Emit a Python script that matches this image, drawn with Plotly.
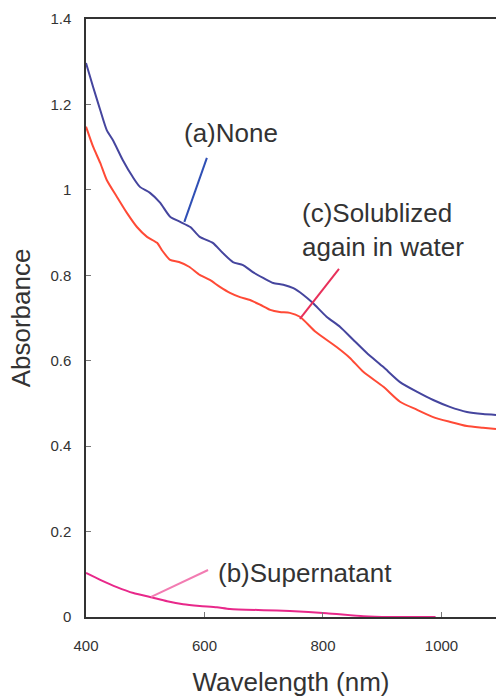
import plotly.graph_objects as go

# ---- data ----
wl_a = [400, 412, 424, 435, 446, 462, 479, 491, 508, 525, 542, 559, 576, 592, 614,
        631, 648, 665, 681, 699, 716, 733, 750, 767, 783, 806, 829, 851, 874, 902,
        930, 959, 986, 1014, 1043, 1070, 1092]
abs_a = [1.297, 1.241, 1.187, 1.140, 1.115, 1.070, 1.030, 1.007, 0.993, 0.970, 0.937,
         0.925, 0.913, 0.890, 0.876, 0.852, 0.831, 0.824, 0.808, 0.794, 0.782, 0.778,
         0.770, 0.754, 0.735, 0.703, 0.679, 0.649, 0.618, 0.585, 0.550, 0.527, 0.508,
         0.492, 0.480, 0.475, 0.473]

wl_c = [400, 412, 424, 435, 452, 469, 486, 503, 520, 528, 542, 557, 574, 592, 609,
        626, 643, 660, 677, 694, 711, 727, 744, 761, 788, 823, 845, 868, 902, 930,
        959, 986, 1014, 1043, 1070, 1092]
abs_c = [1.148, 1.101, 1.063, 1.023, 0.984, 0.946, 0.913, 0.890, 0.876, 0.859, 0.836,
         0.831, 0.820, 0.801, 0.789, 0.773, 0.759, 0.749, 0.742, 0.731, 0.719, 0.714,
         0.712, 0.703, 0.667, 0.632, 0.607, 0.574, 0.539, 0.504, 0.485, 0.468, 0.457,
         0.447, 0.443, 0.440]

wl_b = [400, 424, 452, 480, 508, 537, 564, 592, 621, 643, 700, 744, 806, 868, 913, 990]
abs_b = [0.103, 0.087, 0.070, 0.056, 0.047, 0.037, 0.030, 0.026, 0.023, 0.019, 0.016,
         0.014, 0.009, 0.002, 0.000, 0.000]

x_ticks = [400, 600, 800, 1000]
y_ticks = [0, 0.2, 0.4, 0.6, 0.8, 1.0, 1.2, 1.4]

# label texts, anchor positions (data units) and leader lines (data units)
label_a = "(a)None"
label_c = "(c)Solublized<br>again in water"
label_b = "(b)Supernatant"
label_pos = {"a": (645, 1.133), "c": (761, 0.906), "b": (619, 0.103)}
leader_a = [(566, 0.925), (604, 1.075)]
leader_c = [(761, 0.698), (827, 0.815)]
leader_b = [(510, 0.047), (606, 0.110)]

FONT = "Liberation Sans, Arial, sans-serif"
TXT = "#333333"

fig = go.Figure()
fig.add_trace(go.Scatter(x=wl_a, y=abs_a, mode="lines",
                         line=dict(color="#45459e", width=2, shape="spline", smoothing=0.6),
                         name="(a)None"))
fig.add_trace(go.Scatter(x=wl_c, y=abs_c, mode="lines",
                         line=dict(color="#ff4a36", width=2, shape="spline", smoothing=0.6),
                         name="(c)"))
fig.add_trace(go.Scatter(x=wl_b, y=abs_b, mode="lines",
                         line=dict(color="#e8288a", width=2, shape="spline", smoothing=0.6),
                         name="(b)"))

for pts, col in [(leader_a, "#2f4fb5"), (leader_c, "#e8305a"), (leader_b, "#f27cb2")]:
    fig.add_shape(type="line", xref="x", yref="y",
                  x0=pts[0][0], y0=pts[0][1], x1=pts[1][0], y1=pts[1][1],
                  line=dict(color=col, width=2))

fig.add_annotation(x=label_pos["a"][0], y=label_pos["a"][1], text=label_a,
                   showarrow=False, xanchor="center", yanchor="middle",
                   font=dict(family=FONT, size=26, color=TXT))
fig.add_annotation(x=label_pos["c"][0], y=label_pos["c"][1], text=label_c,
                   showarrow=False, xanchor="left", yanchor="middle", align="left",
                   font=dict(family=FONT, size=26, color=TXT))
fig.add_annotation(x=label_pos["b"][0], y=label_pos["b"][1], text=label_b,
                   showarrow=False, xanchor="left", yanchor="middle",
                   font=dict(family=FONT, size=26, color=TXT))

fig.update_layout(
    width=496, height=699,
    margin=dict(l=86, r=0, t=19, b=82),
    paper_bgcolor="white", plot_bgcolor="white",
    showlegend=False,
    font=dict(family=FONT, color=TXT),
    xaxis=dict(range=[400, 1092], tickvals=x_ticks, ticks="inside", ticklen=5,
               tickcolor="#777", showline=True, linecolor="#333", linewidth=1.5,
               mirror=True, showgrid=False, zeroline=False,
               tickfont=dict(size=15, color=TXT), ticklabelstandoff=14,
               title=dict(text="Wavelength (nm)", font=dict(size=26, color=TXT),
                          standoff=20)),
    yaxis=dict(range=[0, 1.4], tickvals=y_ticks, ticks="inside", ticklen=5,
               tickcolor="#777", showline=True, linecolor="#333", linewidth=1.5,
               showgrid=False, zeroline=False,
               tickfont=dict(size=15, color=TXT), ticklabelstandoff=10,
               title=dict(text="Absorbance", font=dict(size=26, color=TXT),
                          standoff=12)),
)

fig.write_html("out.html")
